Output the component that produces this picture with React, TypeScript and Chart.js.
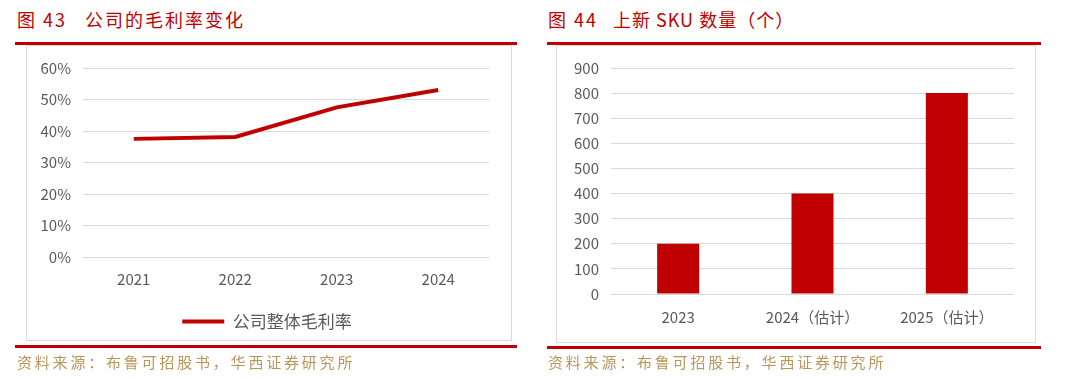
import React, { useEffect, useRef } from 'react';
import { Chart, registerables } from 'chart.js';

Chart.register(...registerables);

// ---------- data ----------
const marginYears: string[] = ['2021', '2022', '2023', '2024'];
const marginValues: number[] = [37.5, 38.1, 47.5, 53.0];
const marginSeriesName = '公司整体毛利率';

const skuCategories: string[] = ['2023', '2024（估计）', '2025（估计）'];
const skuValues: number[] = [200, 400, 800];

const leftTitleNo = '图 43';
const leftTitle = '公司的毛利率变化';
const rightTitleNo = '图 44';
const rightTitle = '上新 SKU 数量（个）';
const sourceText = '资料来源：布鲁可招股书，华西证券研究所';

// ---------- styles ----------
const FONT = '"Noto Sans CJK SC", "Noto Sans", sans-serif';
const RED = '#c00000';
const GRID = '#d9d9d9';
const TICK = '#595959';
const SRC = '#b8965a';

// shifts the legend horizontally so it is centred in the framed box
const legendShift = {
  id: 'legendShift',
  afterLayout(chart: any, _args: any, opts: any) {
    const dx = (opts && opts.dx) || 0;
    if (chart.legend && dx) {
      chart.legend.left += dx;
      chart.legend.right += dx;
    }
  },
};

function MarginChart() {
  const ref = useRef<HTMLCanvasElement>(null);
  useEffect(() => {
    if (!ref.current) return;
    const chart = new Chart(ref.current, {
      type: 'line',
      data: {
        labels: marginYears,
        datasets: [
          {
            label: marginSeriesName,
            data: marginValues,
            borderColor: RED,
            backgroundColor: RED,
            borderWidth: 4,
            pointRadius: 0,
            tension: 0,
          },
        ],
      },
      plugins: [legendShift],
      options: {
        responsive: false,
        animation: false,
        devicePixelRatio: 1,
        layout: { padding: { left: 0, right: 22, top: 21, bottom: 7 } },
        plugins: {
          tooltip: { enabled: false },
          legendShift: { dx: 9 },
          legend: {
            position: 'bottom',
            labels: {
              usePointStyle: true,
              pointStyle: 'line',
              pointStyleWidth: 42,
              padding: 10,
              color: TICK,
              font: { family: FONT, size: 17 },
            },
          },
        },
        scales: {
          x: {
            offset: true,
            grid: { display: false },
            border: { display: false },
            ticks: { color: TICK, font: { family: FONT, size: 15 }, padding: 5, maxRotation: 0 },
            afterFit: (s: any) => {
              s.height = 46;
            },
          },
          y: {
            min: 0,
            max: 60,
            grid: { color: GRID, drawTicks: false },
            border: { display: false },
            ticks: {
              stepSize: 10,
              padding: 12,
              color: TICK,
              font: { family: FONT, size: 15 },
              callback: (v: any) => v + '%',
            },
            afterFit: (s: any) => {
              s.width = 56;
            },
          },
        },
      },
    } as any);
    return () => chart.destroy();
  }, []);
  return <canvas ref={ref} width={484} height={300} style={{ width: 484, height: 300, display: 'block' }} />;
}

function SkuChart() {
  const ref = useRef<HTMLCanvasElement>(null);
  useEffect(() => {
    if (!ref.current) return;
    const chart = new Chart(ref.current, {
      type: 'bar',
      data: {
        labels: skuCategories,
        datasets: [
          {
            label: 'SKU',
            data: skuValues,
            backgroundColor: RED,
            barPercentage: 0.313,
            categoryPercentage: 1,
          },
        ],
      },
      options: {
        responsive: false,
        animation: false,
        devicePixelRatio: 1,
        layout: { padding: { left: 0, right: 21, top: 21, bottom: 6 } },
        plugins: { legend: { display: false }, tooltip: { enabled: false } },
        scales: {
          x: {
            grid: { display: false },
            border: { display: false },
            ticks: { color: TICK, font: { family: FONT, size: 15 }, padding: 6, maxRotation: 0 },
            afterFit: (s: any) => {
              s.height = 40;
            },
          },
          y: {
            min: 0,
            max: 900,
            grid: { color: GRID, drawTicks: false },
            border: { display: false },
            ticks: { stepSize: 100, padding: 12, color: TICK, font: { family: FONT, size: 15 } },
            afterFit: (s: any) => {
              s.width = 54;
            },
          },
        },
      },
    } as any);
    return () => chart.destroy();
  }, []);
  return <canvas ref={ref} width={478} height={293} style={{ width: 478, height: 293, display: 'block' }} />;
}

const abs = (l: number, t: number, w?: number, h?: number): React.CSSProperties => ({
  position: 'absolute',
  left: l,
  top: t,
  width: w,
  height: h,
});

export default function App() {
  const titleStyle: React.CSSProperties = {
    fontFamily: FONT,
    fontSize: 18,
    lineHeight: '24px',
    color: RED,
    letterSpacing: 2,
    whiteSpace: 'nowrap',
  };
  const srcStyle: React.CSSProperties = {
    fontFamily: FONT,
    fontSize: 15,
    lineHeight: '20px',
    color: SRC,
    letterSpacing: 2.8,
    whiteSpace: 'nowrap',
  };
  return (
    <div style={{ position: 'absolute', left: 0, top: 0, width: 1069, height: 379, background: '#fff', overflow: 'hidden' }}>
      {/* left panel */}
      <div style={{ ...abs(17, 7), ...titleStyle }}>{leftTitleNo}</div>
      <div style={{ ...abs(85, 7), ...titleStyle }}>{leftTitle}</div>
      <div style={{ ...abs(26, 45, 486, 296), border: `1px solid ${GRID}`, boxSizing: 'border-box' }} />
      <div style={{ ...abs(15, 42, 502, 3), background: RED }} />
      <div style={abs(27, 47)}>
        <MarginChart />
      </div>
      <div style={{ ...abs(15, 345, 502, 3), background: RED }} />
      <div style={{ ...abs(17, 352), ...srcStyle }}>{sourceText}</div>

      {/* right panel */}
      <div style={{ ...abs(548, 7), ...titleStyle }}>{rightTitleNo}</div>
      <div style={{ ...abs(613, 7), ...titleStyle, letterSpacing: 1 }}>{rightTitle}</div>
      <div style={{ ...abs(556, 45, 480, 298), border: `1px solid ${GRID}`, boxSizing: 'border-box' }} />
      <div style={{ ...abs(547, 42, 494, 3), background: RED }} />
      <div style={abs(557, 47)}>
        <SkuChart />
      </div>
      <div style={{ ...abs(547, 346, 494, 3), background: RED }} />
      <div style={{ ...abs(548, 352), ...srcStyle }}>{sourceText}</div>
    </div>
  );
}
